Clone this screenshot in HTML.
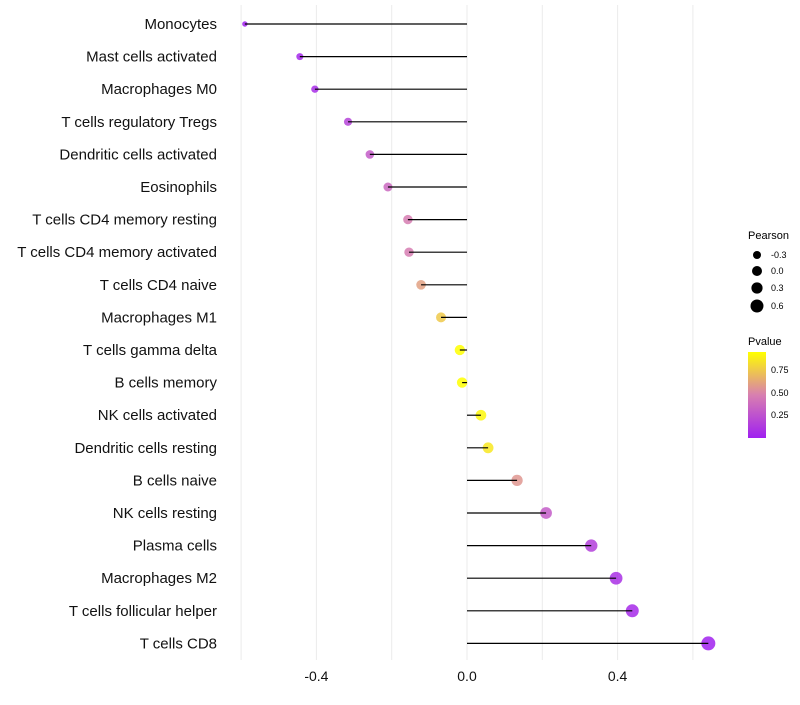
<!DOCTYPE html>
<html><head><meta charset="utf-8"><style>
body{margin:0;background:#fff;font-family:"Liberation Sans",sans-serif;}
</style></head><body>
<svg id="chart" width="800" height="700" xmlns="http://www.w3.org/2000/svg" font-family="Liberation Sans, sans-serif">
<defs><linearGradient id="pg" x1="0" y1="1" x2="0" y2="0">
<stop offset="0" stop-color="#a020f0"/><stop offset="0.5" stop-color="#d87fb0"/><stop offset="1" stop-color="#ffff00"/></linearGradient></defs>
<g id="grid"></g><g id="dots"></g><g id="marks"></g><g id="labels"></g>
<g font-size="9">
<text x="748" y="239" font-size="11">Pearson</text>
<circle cx="757" cy="255" r="4"/><text x="771" y="258">-0.3</text>
<circle cx="757" cy="271" r="5"/><text x="771" y="274">0.0</text>
<circle cx="757" cy="288" r="5.6"/><text x="771" y="291">0.3</text>
<circle cx="757" cy="306" r="6.5"/><text x="771" y="309">0.6</text>
</g>
<g font-size="9">
<text x="748" y="345" font-size="11">Pvalue</text>
<rect x="748" y="352" width="18" height="86" fill="url(#pg)"/>
<text x="771" y="373">0.75</text><text x="771" y="396">0.50</text><text x="771" y="418">0.25</text>
</g>
</svg>
<script>
const categories=["Monocytes","Mast cells activated","Macrophages M0","T cells regulatory  Tregs ","Dendritic cells activated","Eosinophils","T cells CD4 memory resting","T cells CD4 memory activated","T cells CD4 naive","Macrophages M1","T cells gamma delta","B cells memory","NK cells activated","Dendritic cells resting","B cells naive","NK cells resting","Plasma cells","Macrophages M2","T cells follicular helper","T cells CD8"];
const pearson=[-0.59,-0.444,-0.404,-0.316,-0.258,-0.21,-0.157,-0.154,-0.122,-0.069,-0.019,-0.013,0.037,0.056,0.133,0.21,0.33,0.396,0.439,0.641];
const pvalue=[0.01,0.04,0.07,0.18,0.3,0.36,0.46,0.46,0.6,0.75,0.95,0.95,0.92,0.86,0.56,0.3,0.16,0.08,0.05,0.01];
const xTicks=[-0.4,0,0.4];
const xMinor=[-0.6,-0.2,0.2,0.6];
const NS="http://www.w3.org/2000/svg";
const X=v=>467+v*376.5;
const Y=i=>24+i*32.6;
function col(p){const t=Math.min(1,p/0.95);const a=[160,32,240],m=[216,127,176],b=[255,255,0];let c;
 if(t<0.5){const u=t/0.5;c=a.map((v,k)=>v+(m[k]-v)*u);}else{const u=(t-0.5)/0.5;c=m.map((v,k)=>v+(b[k]-v)*u);}
 return `rgb(${c.map(Math.round).join(',')})`;}
function mk(tag,at,par){const e=document.createElementNS(NS,tag);for(const k in at)e.setAttribute(k,at[k]);document.getElementById(par).appendChild(e);return e;}
xMinor.concat(xTicks).forEach(v=>{const l=mk('line',{x1:X(v),x2:X(v),y1:5,y2:660,stroke:'#ebebeb','stroke-width':1},'grid');

});
xTicks.forEach(v=>{const t=mk('text',{x:X(v),y:681,'text-anchor':'middle','font-size':14,fill:'#111'},'labels');t.textContent=v===0?'0.0':v.toFixed(1);

});
categories.forEach((c,i)=>{const t=mk('text',{x:217,y:Y(i)+5,'text-anchor':'end','font-size':15,fill:'#111','xml:space':'preserve'},'labels');t.textContent=c;


const v=pearson[i];
const r=Math.sqrt(Math.max(2.5,27.3+33.9*v));
const d=mk('circle',{cx:X(v),cy:Y(i),r:r,fill:col(pvalue[i]),'fill-opacity':0.85},'dots');


const l=mk('line',{x1:X(0),x2:X(v),y1:Y(i),y2:Y(i),stroke:'#000','stroke-width':1.2},'marks');

});
</script>
</body></html>
